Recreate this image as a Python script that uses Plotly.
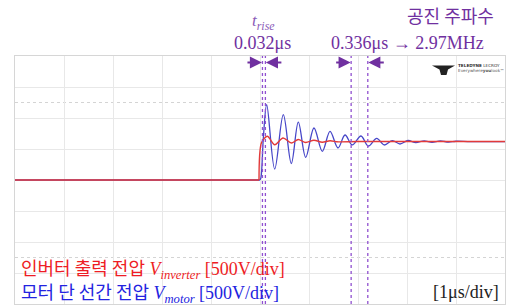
import plotly.graph_objects as go

# ---- data (time in microseconds, voltage in volts) ----
t_motor_base = [0, 5.00]
v_motor_base = [0, 0]
t_motor = [5.00, 5.02, 5.07, 5.137, 5.300, 5.476, 5.639, 5.782, 5.933, 6.102, 6.272,
           6.429, 6.592, 6.735, 6.884, 7.061, 7.210, 7.382, 7.537, 7.701, 7.857, 8.020,
           8.18, 8.35, 8.51, 8.68, 8.85, 9.0, 9.3, 10]
v_motor = [0, 40, 700, 1214, 177, 1053, 266, 935, 366, 839, 463,
           785, 516, 726, 565, 710, 548, 672, 565, 634, 581, 637,
           603, 632, 608, 630, 612, 625, 618, 620]

t_inv_base = [0, 4.98]
v_inv_base = [0, 0]
t_inv = [4.98, 5.03, 5.15, 5.30, 5.47, 5.64, 5.78, 5.93, 6.10, 6.27, 6.43, 6.60, 7.0, 10]
v_inv = [0, 600, 705, 569, 677, 597, 653, 605, 640, 610, 632, 615, 620, 620]

marker_times = [5.05, 5.11, 6.86, 7.20]

PURPLE = "#7030a0"
BLUE = "#4646c8"
RED = "#e23a3a"

L, R, T, B = 15, 1, 56, 3
W, H = 506, 307
PW, PH = W - L - R, H - T - B


def px(x):
    return (x - L) / PW


def py(y):
    return (H - B - y) / PH


fig = go.Figure()
fig.add_trace(go.Scatter(x=t_motor_base, y=v_motor_base, mode="lines",
                         line=dict(color=BLUE, width=1.3), hoverinfo="skip"))
fig.add_trace(go.Scatter(x=t_motor, y=v_motor, mode="lines",
                         line=dict(color=BLUE, width=1.3, shape="spline", smoothing=1.0),
                         hoverinfo="skip"))
fig.add_trace(go.Scatter(x=t_inv_base, y=v_inv_base, mode="lines",
                         line=dict(color=RED, width=1.4), hoverinfo="skip"))
fig.add_trace(go.Scatter(x=t_inv, y=v_inv, mode="lines",
                         line=dict(color=RED, width=1.4, shape="spline", smoothing=0.8),
                         hoverinfo="skip"))

shapes = []
for yv in (1250, -1250):
    shapes.append(dict(type="line", xref="paper", yref="y", x0=0, x1=1, y0=yv, y1=yv,
                       line=dict(color="#d4d4d4", width=1, dash="dot"), layer="below"))
for tm in marker_times:
    shapes.append(dict(type="line", xref="x", yref="paper", x0=tm, x1=tm, y0=0, y1=1,
                       line=dict(color="#9050d0", width=1.3, dash="dot")))
# logo glyph
logo = [(432, 65.5), (455, 65.5), (448, 69.5), (446.5, 75), (441, 75), (439.5, 69.5)]
path = "M " + " L ".join(f"{px(a):.4f},{py(b):.4f}" for a, b in logo) + " Z"
shapes.append(dict(type="path", xref="paper", yref="paper", path=path,
                   fillcolor="#222222", line=dict(width=0)))

SERIF = "Liberation Serif"
KR = "Noto Sans CJK KR"
ann = []


def txt(x, y, text, font, xanchor="center"):
    ann.append(dict(x=px(x), y=py(y), xref="paper", yref="paper", showarrow=False,
                    xanchor=xanchor, yanchor="middle", text=text, font=font))


txt(450, 15, "공진 주파수", dict(family=KR, size=18, color=PURPLE))
txt(263, 22, "<i>t</i><sub><i>rise</i></sub>", dict(family=SERIF, size=17, color="#8a5ab8"))
txt(262, 43, "0.032μs", dict(family=SERIF, size=18, color=PURPLE))
txt(407, 43, "0.336μs → 2.97MHz", dict(family=SERIF, size=18, color=PURPLE))
txt(19, 268, f"<span style='font-family:{KR}; font-size:18px'>인버터 출력 전압</span> "
             "<i>V</i><sub><i>inverter</i></sub> [500V/div]",
    dict(family=SERIF, size=18, color="#ee1c24"), "left")
txt(19, 292, f"<span style='font-family:{KR}; font-size:18px'>모터 단 선간 전압</span> "
             "<i>V</i><sub><i>motor</i></sub> [500V/div]",
    dict(family=SERIF, size=18, color="#2323e0"), "left")
txt(501, 292, "[1μs/div]", dict(family=SERIF, size=18, color="#222222"), "right")
txt(456, 66, "<b>TELEDYNE</b> LECROY", dict(family="DejaVu Sans", size=4.2, color="#333333"), "left")
txt(456, 71, "Everywhere<b>you</b>look™", dict(family="DejaVu Sans", size=4.2, color="#555555"), "left")

# arrows
VA = 1895
for head, off in ((5.04, -16), (5.12, 17), (6.85, -16), (7.21, 17)):
    ann.append(dict(x=head, y=VA, xref="x", yref="y", ax=off, ay=0, text="",
                    showarrow=True, arrowhead=2, arrowsize=1.1, arrowwidth=2.2,
                    arrowcolor=PURPLE, standoff=0))

fig.update_layout(
    width=W, height=H, margin=dict(l=L, r=R, t=T, b=B),
    paper_bgcolor="white", plot_bgcolor="white", showlegend=False,
    shapes=shapes, annotations=ann,
    xaxis=dict(range=[0, 10], dtick=1, showgrid=True, gridcolor="#e8e8e8",
               showticklabels=False, zeroline=False, showline=True, mirror=True,
               linecolor="#d6d6d6", ticks=""),
    yaxis=dict(range=[-2000, 2000], dtick=500, showgrid=True, gridcolor="#e8e8e8",
               showticklabels=False, zeroline=False, showline=True, mirror=True,
               linecolor="#d6d6d6", ticks=""),
)

fig.write_html("out.html", config={"displayModeBar": False},
               post_script="document.body.style.margin='0';")
